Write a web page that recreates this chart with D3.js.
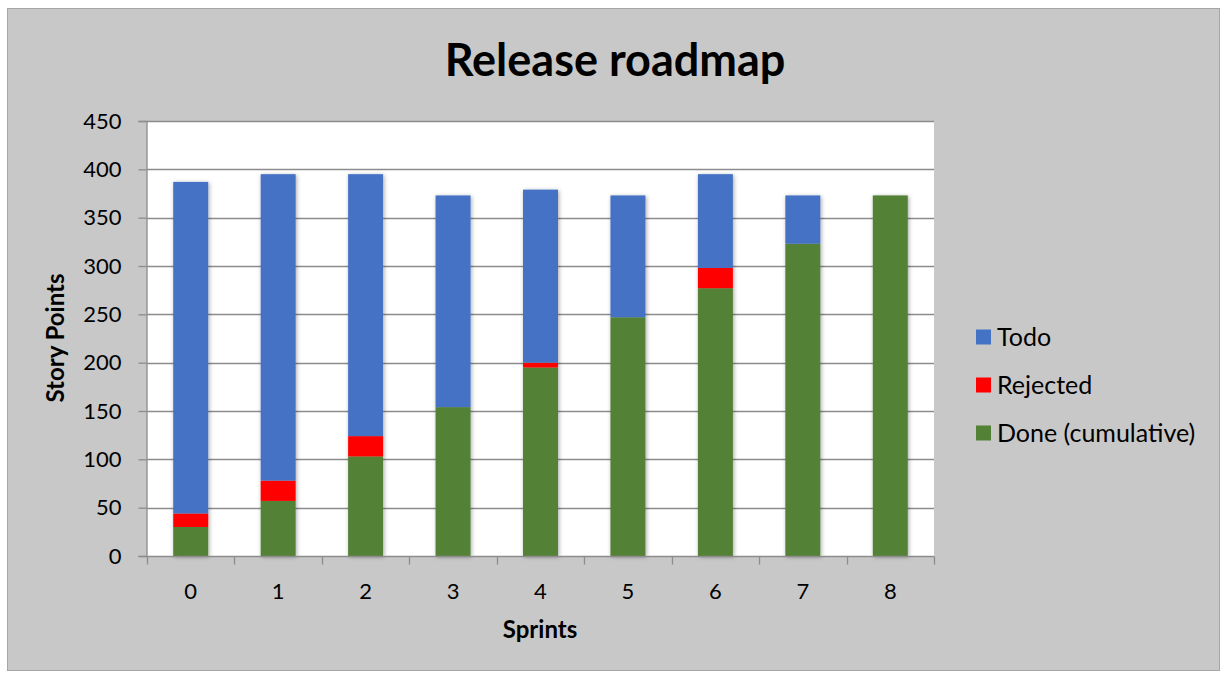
<!DOCTYPE html>
<html>
<head>
<meta charset="utf-8">
<script src="https://cdn.jsdelivr.net/npm/d3@7"></script>
<style>
  body { margin: 0; background: #fff; }
  text { font-family: Lato, "Open Sans", sans-serif; fill: #000; }
</style>
</head>
<body>
<div id="container-div"></div>
<script>
// chart data
var sprints = ["0", "1", "2", "3", "4", "5", "6", "7", "8"];
var done = [30, 57, 103, 154, 195, 247, 277, 323, 373];
var rejected = [14, 21, 21, 0, 5, 0, 21, 0, 0];
var todo = [343, 317, 271, 219, 179, 126, 97, 50, 0];
var yTicks = [0, 50, 100, 150, 200, 250, 300, 350, 400, 450];
var seriesNames = ["Done (cumulative)", "Rejected", "Todo"];
var seriesColors = ["#538135", "#ff0000", "#4472c4"];

var W = 1221, H = 673;
var plotLeft = 147, plotRight = 934, plotTop = 121, plotBottom = 556;

let viz = d3.select("#container-div").append("svg")
    .attr("width", W)
    .attr("height", H)
    .attr("id", "viz");

var defs = viz.append("defs");
defs.append("filter").attr("id", "shadow")
    .attr("x", "-20%").attr("y", "-5%").attr("width", "140%").attr("height", "110%")
    .append("feDropShadow")
    .attr("dx", 1).attr("dy", 1).attr("stdDeviation", 2)
    .attr("flood-color", "#000").attr("flood-opacity", 0.35);

// frame
viz.append("rect")
    .attr("x", 7.5).attr("y", 8.5)
    .attr("width", W - 9).attr("height", H - 11)
    .attr("fill", "#c8c8c8")
    .attr("stroke", "#a6a6a6");

// plot area
viz.append("rect")
    .attr("x", plotLeft).attr("y", plotTop)
    .attr("width", plotRight - plotLeft).attr("height", plotBottom - plotTop)
    .attr("fill", "#fff");

var x = d3.scaleBand().domain(sprints).range([plotLeft, plotRight]).paddingInner(0.6).paddingOuter(0.3);
var xb = d3.scaleBand().domain(sprints).range([plotLeft, plotRight]);
var y = d3.scaleLinear().domain([0, 450]).range([plotBottom, plotTop]);

// gridlines
viz.append("g").selectAll("line").data(yTicks.slice(1)).enter()
    .append("line")
    .attr("x1", plotLeft).attr("x2", plotRight)
    .attr("y1", function (d) { return Math.round(y(d)) + 0.5; })
    .attr("y2", function (d) { return Math.round(y(d)) + 0.5; })
    .attr("stroke", "#8c8c8c")
    .attr("stroke-width", 1.3);

// stacked bars
var rows = sprints.map(function (s, i) {
    return { sprint: s, "Done (cumulative)": done[i], "Rejected": rejected[i], "Todo": todo[i] };
});
var stack = d3.stack().keys(seriesNames)(rows);

var groups = viz.append("g").attr("filter", "url(#shadow)")
    .selectAll("g").data(stack).enter()
    .append("g")
    .attr("fill", function (d, i) { return seriesColors[i]; });

groups.selectAll("rect").data(function (d) { return d; }).enter()
    .append("rect")
    .attr("x", function (d) { return x(d.data.sprint); })
    .attr("width", x.bandwidth())
    .attr("y", function (d) { return y(d[1]); })
    .attr("height", function (d) { return y(d[0]) - y(d[1]); });

// y axis
var yAxis = viz.append("g")
    .attr("transform", "translate(" + (plotLeft - 0.5) + ",0)")
    .call(d3.axisLeft(y).tickValues(yTicks).tickSize(8).tickPadding(17));
yAxis.select(".domain").attr("stroke", "#8c8c8c").attr("stroke-width", 1.3);
yAxis.selectAll(".tick line").attr("stroke", "#8c8c8c").attr("stroke-width", 1.3);
yAxis.selectAll("text").style("font-size", "22px").attr("fill", "#000")
    .style("font-family", "Lato, sans-serif");

// x axis
var xAxis = viz.append("g")
    .attr("transform", "translate(0," + (plotBottom + 0.5) + ")");
xAxis.append("line")
    .attr("x1", plotLeft).attr("x2", plotRight)
    .attr("stroke", "#8c8c8c").attr("stroke-width", 1.3);
var bounds = sprints.map(function (s) { return xb(s); }).concat([plotRight]);
xAxis.selectAll("line.tk").data(bounds).enter()
    .append("line").attr("class", "tk")
    .attr("x1", function (d) { return Math.round(d) + 0.5; })
    .attr("x2", function (d) { return Math.round(d) + 0.5; })
    .attr("y1", 0).attr("y2", 8)
    .attr("stroke", "#8c8c8c").attr("stroke-width", 1.3);
xAxis.selectAll("text").data(sprints).enter()
    .append("text")
    .attr("x", function (d) { return xb(d) + xb.bandwidth() / 2; })
    .attr("y", 42)
    .attr("text-anchor", "middle")
    .style("font-size", "22px")
    .text(function (d) { return d; });

// titles
viz.append("text")
    .attr("x", 615).attr("y", 76)
    .attr("text-anchor", "middle")
    .style("font-size", "45px").style("font-weight", "bold")
    .text("Release roadmap");

viz.append("text")
    .attr("x", 540).attr("y", 638)
    .attr("text-anchor", "middle")
    .style("font-size", "24px").style("font-weight", "bold")
    .text("Sprints");

viz.append("text")
    .attr("transform", "translate(64,338) rotate(-90)")
    .attr("text-anchor", "middle")
    .style("font-size", "24px").style("font-weight", "bold")
    .text("Story Points");

// legend
var legendOrder = [2, 1, 0];
var legend = viz.append("g").selectAll("g").data(legendOrder).enter()
    .append("g")
    .attr("transform", function (d, i) { return "translate(976," + (337 + i * 48) + ")"; });
legend.append("rect")
    .attr("x", 0).attr("y", -7.5)
    .attr("width", 15).attr("height", 15)
    .attr("fill", function (d) { return seriesColors[d]; });
legend.append("text")
    .attr("x", 21).attr("y", 9)
    .style("font-size", "25px")
    .text(function (d) { return seriesNames[d]; });
</script>
</body>
</html>
